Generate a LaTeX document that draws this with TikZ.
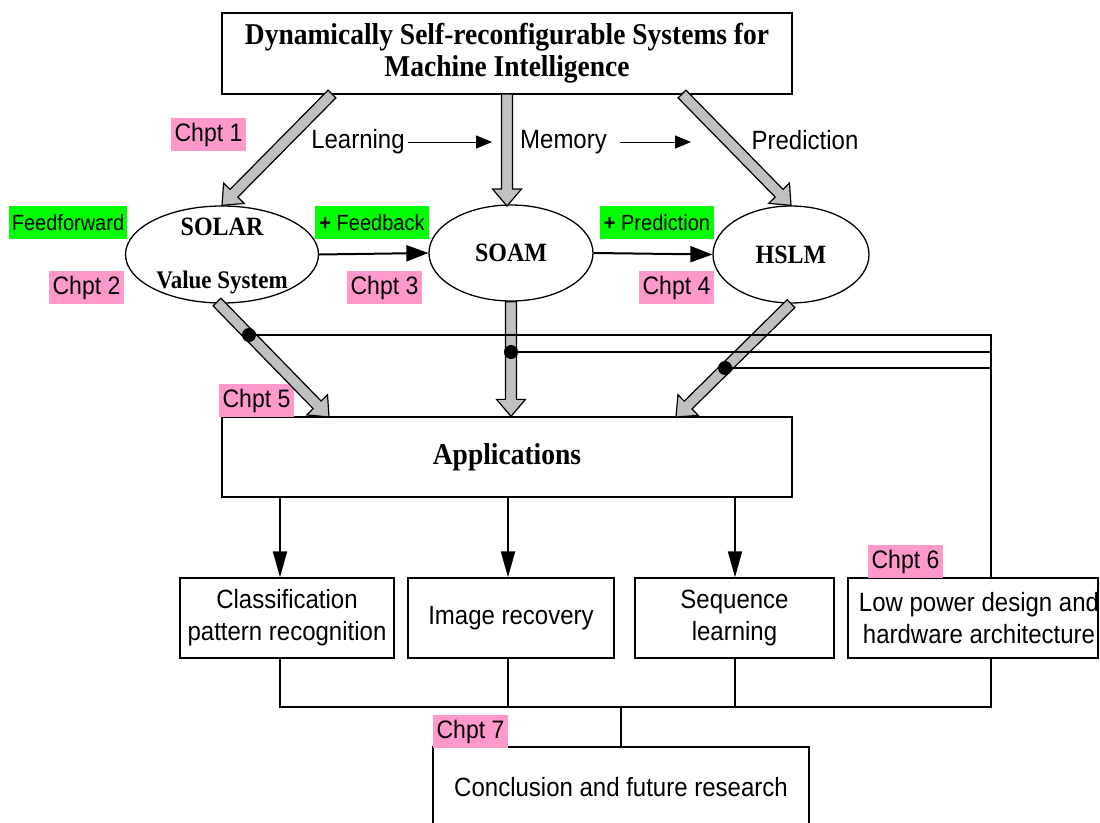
\documentclass[tikz,border=0pt]{standalone}
\usepackage{fontspec}
\usepackage{graphicx}
\setmainfont{Liberation Serif}
\setsansfont{Liberation Sans}
\usetikzlibrary{arrows.meta,calc,shapes.geometric}
\definecolor{pinklbl}{HTML}{FF99CC}
\definecolor{greenlbl}{HTML}{00FF00}
\definecolor{greyarr}{HTML}{C0C0C0}
\newcommand{\vs}[1]{\scalebox{1}[1.1]{#1}}
\newcommand{\garrow}[2]{%
  \coordinate (gah) at ($(#2)!17pt!(#1)$);
  \filldraw[garrowst] ($(#1)!5.5pt!90:(#2)$) -- ($(gah)!5.5pt!90:(#2)$) --
    ($(gah)!14.5pt!90:(#2)$) -- (#2) -- ($(gah)!14.5pt!-90:(#2)$) --
    ($(gah)!5.5pt!-90:(#2)$) -- ($(#1)!5.5pt!-90:(#2)$) -- cycle;
}
\tikzset{
  box/.style={draw, line width=1.3pt, rectangle, inner sep=0pt},
  ell/.style={draw, line width=1.3pt, ellipse, inner sep=0pt},
  garrowst/.style={fill=greyarr, draw=black, line width=1.2pt, line join=miter},
  conn/.style={line width=2pt},
  bigarr/.style={conn, -{Triangle[length=22pt,width=16pt]}},
  apparr/.style={conn, -{Triangle[length=26pt,width=14pt]}},
  thinarr/.style={line width=1pt, -{Triangle[length=16pt,width=13pt]}},
  pinkl/.style={fill=pinklbl, inner sep=0pt, minimum width=75pt, minimum height=33pt, font=\sffamily\fontsize{23}{26}\selectfont},
  greenl/.style={fill=greenlbl, inner sep=0pt, minimum height=33pt, font=\sffamily\fontsize{20}{24}\selectfont},
  sanst/.style={font=\sffamily\fontsize{24}{32}\selectfont, inner sep=0pt, align=center},
  serifb/.style={font=\bfseries\fontsize{24}{28}\selectfont, inner sep=0pt},
  titlef/.style={font=\bfseries\fontsize{27.5}{32}\selectfont, inner sep=0pt, align=center},
  dotst/.style={fill=black}
}
\begin{document}
\begin{tikzpicture}[x=1pt,y=-1pt]
\useasboundingbox (0,0) rectangle (1100,822);

% main boxes
\node[box, minimum width=570pt, minimum height=81pt] (top) at (507,53.5) {};
\node[titlef] (toptxt) at (507,53) {\vs{Dynamically Self-reconfigurable Systems for}\\\vs{Machine Intelligence}};

\node[ell, minimum width=193pt, minimum height=97pt] (solar) at (222,254.5) {};
\node[serifb, anchor=base] (solart) at (222,235) {\vs{SOLAR}};
\node[serifb, anchor=base, font=\bfseries\fontsize{23}{28}\selectfont] (valsys) at (222,288) {\vs{Value System}};
\node[ell, minimum width=164pt, minimum height=96pt, font=\bfseries\fontsize{24}{28}\selectfont] (soam) at (511,253) {\vs{SOAM}};
\node[ell, minimum width=156pt, minimum height=97pt, font=\bfseries\fontsize{24}{28}\selectfont] (hslm) at (791,254.5) {\vs{HSLM}};

\node[box, minimum width=570pt, minimum height=80pt, font=\bfseries\fontsize{27.5}{32}\selectfont] (app) at (507,457) {\vs{Applications}};

\node[box, sanst, minimum width=214pt, minimum height=80pt] (cls) at (287,618) {\vs{Classification}\\\vs{pattern recognition}};
\node[box, sanst, minimum width=206pt, minimum height=80pt] (img) at (511,618) {\vs{Image recovery}};
\node[box, sanst, minimum width=199pt, minimum height=80pt] (seq) at (734.5,618) {\vs{Sequence}\\\vs{learning}};
\node[box, minimum width=250pt, minimum height=80pt] (low) at (973,618) {};
\node[sanst] (lowtxt) at (979,618) {\vs{Low power design and}\\\vs{hardware architecture}};
\node[box, sanst, minimum width=376pt, minimum height=80pt] (concl) at (621,787) {\vs{Conclusion and future research}};

% top texts
\node[sanst] (lrn) at (358,142) {\vs{Learning}};
\node[sanst] (mem) at (563.5,142) {\vs{Memory}};
\node[sanst] (pred) at (805,140) {\vs{Prediction}};
\coordinate (lrnend) at (492,142);
\coordinate (memst) at (620,142);
\coordinate (memend) at (691,142);
\draw[thinarr] (lrn.east) ++(3,0) -- (lrnend);
\draw[thinarr] (memst) -- (memend);

% labels
\node[pinkl] (c1) at (208.5,134.5) {\vs{Chpt 1}};
\node[pinkl] (c2) at (86.5,287.5) {\vs{Chpt 2}};
\node[pinkl] (c3) at (384.5,287.5) {\vs{Chpt 3}};
\node[pinkl] (c4) at (676.5,287.5) {\vs{Chpt 4}};
\node[pinkl] (c5) at (256.5,400.5) {\vs{Chpt 5}};
\node[pinkl] (c6) at (905.5,561.5) {\vs{Chpt 6}};
\node[pinkl] (c7) at (470.5,731.5) {\vs{Chpt 7}};
\node[greenl, minimum width=118pt] (ff) at (68,222.5) {\vs{Feedforward}};
\node[greenl, minimum width=114pt] (fb) at (372,222.5) {\vs{{\bfseries +} Feedback}};
\node[greenl, minimum width=114pt] (pr) at (657,222.5) {\vs{{\bfseries +} Prediction}};

% grey arrows
\coordinate (g1s) at (332,94);
\coordinate (g2s) at (507,94);
\coordinate (g2e) at (507,206);
\coordinate (g3s) at (682,94);
\garrow{g1s}{solar.north}
\garrow{g2s}{g2e}
\garrow{g3s}{hslm.north}
\coordinate (g4s) at (217,302);
\coordinate (g4e) at (329,417);
\coordinate (g6e) at (676,417);
\garrow{g4s}{g4e}
\garrow{soam.south}{app.north -| soam.south}
\garrow{hslm.south}{g6e}

% ellipse to ellipse arrows
\draw[bigarr] (solar.east) -- (soam.west);
\draw[bigarr] (soam.east) -- (hslm.west);

% bus lines
\coordinate (d1) at (249,335);
\coordinate (d2) at (511,352);
\coordinate (d3) at (725,368);
\coordinate (x4) at (991,0);
\draw[conn] (d1) -- (d1 -| x4) -- (low.north -| x4);
\draw[conn] (d2) -- (d2 -| x4);
\draw[conn] (d3) -- (d3 -| x4);
\fill[dotst] (d1) circle (7);
\fill[dotst] (d2) circle (7);
\fill[dotst] (d3) circle (7);

% application arrows
\coordinate (x1) at (280,0);
\coordinate (x2) at (508,0);
\coordinate (x3) at (735,0);
\draw[apparr] (app.south -| x1) -- (cls.north -| x1);
\draw[apparr] (app.south -| x2) -- (img.north -| x2);
\draw[apparr] (app.south -| x3) -- (seq.north -| x3);

% bottom bus
\coordinate (busb) at (621,707);
\draw[conn] (cls.south -| x1) -- (x1 |- busb) -- (x4 |- busb) -- (low.south -| x4);
\draw[conn] (img.south -| x2) -- (x2 |- busb);
\draw[conn] (seq.south -| x3) -- (x3 |- busb);
\draw[conn] (busb) -- (concl.north -| busb);
\end{tikzpicture}
\end{document}
